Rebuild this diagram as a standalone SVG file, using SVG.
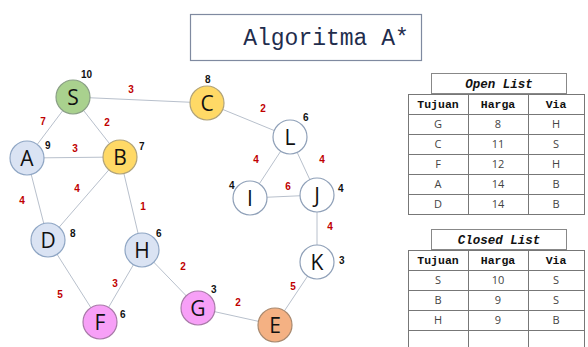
<svg xmlns="http://www.w3.org/2000/svg" width="588" height="347" viewBox="0 0 588 347">
<style>
.edge{stroke:#b8c0cc;stroke-width:1;fill:none}
.nd{stroke-width:1.2}
.lbl{font-family:"Open Sans","Liberation Sans",sans-serif;font-size:21px;fill:#111;text-anchor:middle}
.h{font-family:"Liberation Sans",sans-serif;font-size:10px;font-weight:bold;fill:#111}
.w{font-family:"Liberation Sans",sans-serif;font-size:10px;font-weight:bold;fill:#c00000;text-anchor:middle}
.blue{fill:#dae3f3;stroke:#8fa6c4}
.white{fill:#fff;stroke:#8fa0b8}
.yellow{fill:#ffd966;stroke:#b0a37a}
.green{fill:#a9d18e;stroke:#8a9f86}
.pink{fill:#f7a0f7;stroke:#a87aa8}
.orange{fill:#f4b183;stroke:#a8896f}
.tl{fill:#fff;stroke:#888;stroke-width:1}
.tt{font-family:"Liberation Mono",monospace;font-size:12.5px;font-weight:bold;font-style:italic;fill:#111;text-anchor:middle}
.th{font-family:"Liberation Mono",monospace;font-size:11.5px;font-weight:bold;fill:#111;text-anchor:middle}
.td{font-family:"Open Sans","Liberation Sans",sans-serif;font-size:11px;fill:#444;text-anchor:middle}
.grid{stroke:#777;stroke-width:1;fill:none}
</style>
<g id="title">
<rect x="190.5" y="14.5" width="231" height="46" fill="#fff" stroke="#7f8aa0" stroke-width="1.2"/>
<text x="326" y="45" font-family="Liberation Mono,monospace" font-size="23" fill="#1f2d4d" text-anchor="middle">Algoritma A*</text>
</g>
<g id="connectors">
<line class="edge" x1="73" y1="97" x2="207" y2="103"/>
<line class="edge" x1="73" y1="97" x2="27" y2="158"/>
<line class="edge" x1="73" y1="97" x2="120" y2="157"/>
<line class="edge" x1="27" y1="158" x2="120" y2="157"/>
<line class="edge" x1="120" y1="157" x2="48" y2="240"/>
<line class="edge" x1="27" y1="158" x2="48" y2="240"/>
<line class="edge" x1="120" y1="157" x2="142" y2="250"/>
<line class="edge" x1="207" y1="103" x2="290" y2="137"/>
<line class="edge" x1="290" y1="137" x2="250" y2="198"/>
<line class="edge" x1="290" y1="137" x2="317" y2="195"/>
<line class="edge" x1="250" y1="198" x2="317" y2="195"/>
<line class="edge" x1="317" y1="195" x2="317" y2="262"/>
<line class="edge" x1="142" y1="250" x2="198" y2="308"/>
<line class="edge" x1="198" y1="308" x2="275" y2="325"/>
<line class="edge" x1="317" y1="262" x2="275" y2="325"/>
<line class="edge" x1="48" y1="240" x2="100" y2="322"/>
<line class="edge" x1="142" y1="250" x2="100" y2="322"/>
<text class="w" x="131" y="93">3</text>
<text class="w" x="43" y="125">7</text>
<text class="w" x="107" y="126">2</text>
<text class="w" x="75" y="152">3</text>
<text class="w" x="77" y="192">4</text>
<text class="w" x="22" y="204">4</text>
<text class="w" x="143" y="210">1</text>
<text class="w" x="263" y="112">2</text>
<text class="w" x="256" y="163">4</text>
<text class="w" x="322" y="163">4</text>
<text class="w" x="288" y="190">6</text>
<text class="w" x="330" y="230">4</text>
<text class="w" x="183" y="270">2</text>
<text class="w" x="238" y="306">2</text>
<text class="w" x="293" y="290">5</text>
<text class="w" x="60" y="298">5</text>
<text class="w" x="115" y="287">3</text>
</g>
<g id="node-S"><circle class="nd green" cx="73" cy="97" r="17"/><text class="lbl" x="73" y="104.5">S</text><text class="h" x="81" y="78">10</text></g>
<g id="node-A"><circle class="nd blue" cx="27" cy="158" r="17"/><text class="lbl" x="27" y="165.5">A</text><text class="h" x="45" y="149">9</text></g>
<g id="node-B"><circle class="nd yellow" cx="120" cy="157" r="17"/><text class="lbl" x="120" y="164.5">B</text><text class="h" x="139" y="150">7</text></g>
<g id="node-C"><circle class="nd yellow" cx="207" cy="103" r="17"/><text class="lbl" x="207" y="110.5">C</text><text class="h" x="205" y="83">8</text></g>
<g id="node-L"><circle class="nd white" cx="290" cy="137" r="17"/><text class="lbl" x="290" y="144.5">L</text><text class="h" x="303" y="121">6</text></g>
<g id="node-I"><circle class="nd white" cx="250" cy="198" r="17"/><text class="lbl" x="250" y="205.5">I</text><text class="h" x="229" y="189">4</text></g>
<g id="node-J"><circle class="nd white" cx="317" cy="195" r="17"/><text class="lbl" x="317" y="202.5">J</text><text class="h" x="338" y="192">4</text></g>
<g id="node-D"><circle class="nd blue" cx="48" cy="240" r="17"/><text class="lbl" x="48" y="247.5">D</text><text class="h" x="70" y="237">8</text></g>
<g id="node-H"><circle class="nd blue" cx="142" cy="250" r="17"/><text class="lbl" x="142" y="257.5">H</text><text class="h" x="156" y="237">6</text></g>
<g id="node-F"><circle class="nd pink" cx="100" cy="322" r="17"/><text class="lbl" x="100" y="329.5">F</text><text class="h" x="120" y="318">6</text></g>
<g id="node-G"><circle class="nd pink" cx="198" cy="308" r="17"/><text class="lbl" x="198" y="315.5">G</text><text class="h" x="211" y="293">3</text></g>
<g id="node-E"><circle class="nd orange" cx="275" cy="325" r="17"/><text class="lbl" x="275" y="332.5">E</text></g>
<g id="node-K"><circle class="nd white" cx="317" cy="262" r="17"/><text class="lbl" x="317" y="269.5">K</text><text class="h" x="339" y="264">3</text></g>
<g id="open-list">
<rect class="tl" x="431.5" y="73.5" width="135" height="20"/>
<text class="tt" x="499" y="88">Open List</text>
<rect class="grid" x="408.5" y="94.5" width="176" height="120" fill="#fff"/>
<path class="grid" d="M468.5 94.5V214.5M528.5 94.5V214.5M408.5 114.5H584.5M408.5 134.5H584.5M408.5 154.5H584.5M408.5 174.5H584.5M408.5 194.5H584.5"/>
<text class="th" x="438" y="108">Tujuan</text><text class="th" x="498" y="108">Harga</text><text class="th" x="556" y="108">Via</text>
<text class="td" x="438" y="128">G</text><text class="td" x="498" y="128">8</text><text class="td" x="556" y="128">H</text>
<text class="td" x="438" y="148">C</text><text class="td" x="498" y="148">11</text><text class="td" x="556" y="148">S</text>
<text class="td" x="438" y="168">F</text><text class="td" x="498" y="168">12</text><text class="td" x="556" y="168">H</text>
<text class="td" x="438" y="188">A</text><text class="td" x="498" y="188">14</text><text class="td" x="556" y="188">B</text>
<text class="td" x="438" y="208">D</text><text class="td" x="498" y="208">14</text><text class="td" x="556" y="208">B</text>
</g>
<g id="closed-list">
<rect class="tl" x="431.5" y="229.5" width="135" height="20"/>
<text class="tt" x="499" y="244">Closed List</text>
<rect class="grid" x="408.5" y="250.5" width="176" height="100" fill="#fff"/>
<path class="grid" d="M468.5 250.5V347M528.5 250.5V347M408.5 270.5H584.5M408.5 290.5H584.5M408.5 310.5H584.5M408.5 330.5H584.5"/>
<text class="th" x="438" y="264">Tujuan</text><text class="th" x="498" y="264">Harga</text><text class="th" x="556" y="264">Via</text>
<text class="td" x="438" y="284">S</text><text class="td" x="498" y="284">10</text><text class="td" x="556" y="284">S</text>
<text class="td" x="438" y="304">B</text><text class="td" x="498" y="304">9</text><text class="td" x="556" y="304">S</text>
<text class="td" x="438" y="324">H</text><text class="td" x="498" y="324">9</text><text class="td" x="556" y="324">B</text>
</g>
</svg>
